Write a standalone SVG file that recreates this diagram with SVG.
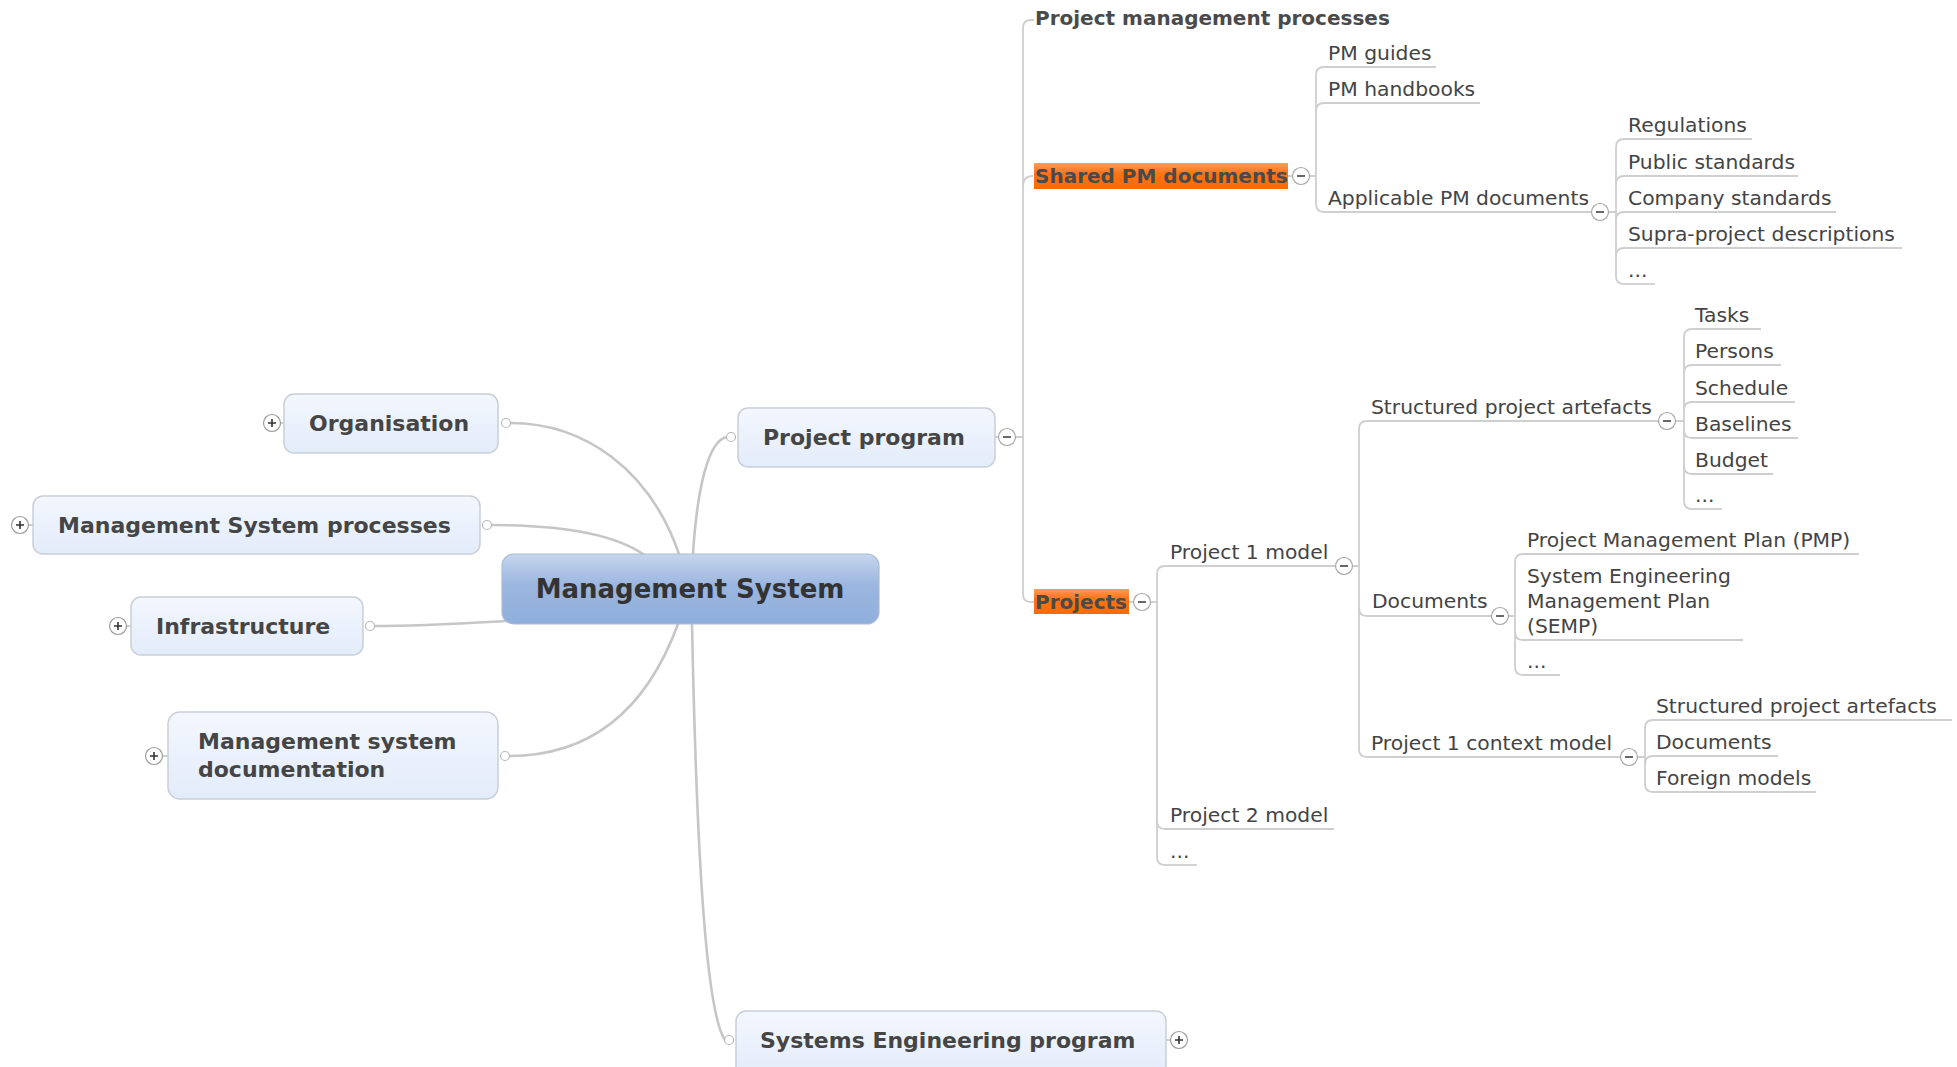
<svg xmlns="http://www.w3.org/2000/svg" width="1957" height="1067" viewBox="0 0 1957 1067">
  <defs>
    <linearGradient id="gTopic" x1="0" y1="0" x2="0" y2="1">
      <stop offset="0" stop-color="#f3f7fe"/>
      <stop offset="1" stop-color="#e3ecfa"/>
    </linearGradient>
    <linearGradient id="gCentral" x1="0" y1="0" x2="0" y2="1">
      <stop offset="0" stop-color="#c6d6ee"/>
      <stop offset="0.45" stop-color="#9bb6df"/>
      <stop offset="1" stop-color="#8fafdc"/>
    </linearGradient>
    <linearGradient id="gMark" x1="0" y1="0" x2="0" y2="1">
      <stop offset="0" stop-color="#ff9c5a"/>
      <stop offset="0.4" stop-color="#ff7315"/>
      <stop offset="1" stop-color="#ff6a00"/>
    </linearGradient>
    <g id="plus">
      <circle r="8.5" fill="#fff" stroke="#9a9a9a" stroke-width="1.2"/>
      <path d="M-4 0H4M0 -4V4" stroke="#333" stroke-width="1.6"/>
    </g>
    <g id="minus">
      <circle r="8.5" fill="#fff" stroke="#a8a8a8" stroke-width="1.2"/>
      <path d="M-4 0H4" stroke="#444" stroke-width="1.6"/>
    </g>
    <g id="dot">
      <circle r="4.5" fill="#fff" stroke="#b8b8b8" stroke-width="1.2"/>
    </g>
  </defs>
  <style>
    .box { fill: url(#gTopic); stroke: #c9ced8; stroke-width: 1.5; }
    .central { fill: url(#gCentral); stroke: #a9bbd6; stroke-width: 1.2; }
    .mark { fill: url(#gMark); }
    .t1 { font-family: "DejaVu Sans", Verdana, sans-serif; font-weight: bold; font-size: 22px; fill: #454545; }
    .t0 { font-family: "DejaVu Sans", Verdana, sans-serif; font-weight: bold; font-size: 26px; fill: #333; }
    .t2 { font-family: "DejaVu Sans", Verdana, sans-serif; font-weight: bold; font-size: 20px; fill: #4a4a4a; }
    .t3 { font-family: "DejaVu Sans", Verdana, sans-serif; font-size: 20.3px; fill: #444; }
    .ul { stroke: #cfcfcf; stroke-width: 1.8; fill: none; }
    .main { stroke: #c6c6c6; stroke-width: 2.6; fill: none; stroke-linecap: round; }
    .tree { stroke: #cfcfcf; stroke-width: 1.8; fill: none; }
  </style>

  <!-- connectors -->
  <g id="connectors">
    <!-- from the central topic -->
    <path class="main" d="M510 423 C585 423 650 470 679 554"/>
    <path class="main" d="M491 525 C565 525 615 535 643 554"/>
    <path class="main" d="M374 626 C420 626 470 623 506 621"/>
    <path class="main" d="M509 756 C600 756 650 700 678 624"/>
    <path class="main" d="M693 554 C697 490 708 440 727 437"/>
    <path class="main" d="M692 624 C696 820 704 1010 725 1040"/>
    <!-- expand / collapse stubs -->
    <path class="tree" d="M281 423H284M29 525H33M127 626H131M163 756H168M995 437H999M1166 1040H1171"/>
    <!-- Project program -->
    <path class="tree" d="M1016 437H1023M1023 437V28Q1023 20 1031 20H1034"/>
    <path class="tree" d="M1023 186Q1023 176 1033 176"/>
    <path class="tree" d="M1023 437V594Q1023 602 1031 602H1034"/>
    <!-- Shared PM documents -->
    <path class="tree" d="M1288 176H1293M1310 176H1316M1316 176V75Q1316 67 1324 67"/>
    <path class="tree" d="M1316 111Q1316 103 1324 103"/>
    <path class="tree" d="M1316 176V204Q1316 212 1324 212"/>
    <!-- Applicable PM documents -->
    <path class="tree" d="M1609 212H1616M1616 212V147Q1616 139 1624 139"/>
    <path class="tree" d="M1616 184Q1616 176 1624 176"/>
    <path class="tree" d="M1616 220Q1616 212 1624 212"/>
    <path class="tree" d="M1616 256Q1616 248 1624 248"/>
    <path class="tree" d="M1616 212V276Q1616 284 1624 284"/>
    <!-- Projects -->
    <path class="tree" d="M1129 602H1134M1151 602H1157M1157 602V574Q1157 566 1165 566"/>
    <path class="tree" d="M1157 602V821Q1157 829 1165 829"/>
    <path class="tree" d="M1157 602V857Q1157 865 1165 865"/>
    <!-- Project 1 model -->
    <path class="tree" d="M1353 566H1359M1359 566V429Q1359 421 1367 421"/>
    <path class="tree" d="M1359 608Q1359 616 1367 616"/>
    <path class="tree" d="M1359 566V749Q1359 757 1367 757"/>
    <!-- Structured project artefacts -->
    <path class="tree" d="M1676 421H1684M1684 421V337Q1684 329 1692 329"/>
    <path class="tree" d="M1684 373Q1684 365 1692 365"/>
    <path class="tree" d="M1684 410Q1684 402 1692 402"/>
    <path class="tree" d="M1684 430Q1684 438 1692 438"/>
    <path class="tree" d="M1684 466Q1684 474 1692 474"/>
    <path class="tree" d="M1684 421V501Q1684 509 1692 509"/>
    <!-- Documents -->
    <path class="tree" d="M1509 616H1515M1515 616V562Q1515 554 1523 554"/>
    <path class="tree" d="M1515 632Q1515 640 1523 640"/>
    <path class="tree" d="M1515 616V667Q1515 675 1523 675"/>
    <!-- Project 1 context model -->
    <path class="tree" d="M1638 757H1645M1645 757V728Q1645 720 1653 720"/>
    <path class="tree" d="M1645 764Q1645 756 1653 756"/>
    <path class="tree" d="M1645 757V784Q1645 792 1653 792"/>
  </g>

  <!-- central topic -->
  <g id="management-system">
    <rect class="central" x="502" y="554" width="377" height="70" rx="12"/>
    <text class="t0" x="690" y="598" text-anchor="middle">Management System</text>
  </g>

  <!-- main topics -->
  <g id="organisation">
    <rect class="box" x="284" y="394" width="214" height="59" rx="10"/>
    <text class="t1" x="309" y="431">Organisation</text>
    <use href="#plus" x="272" y="423"/>
    <use href="#dot" x="506" y="423"/>
  </g>
  <g id="ms-processes">
    <rect class="box" x="33" y="496" width="447" height="58" rx="10"/>
    <text class="t1" x="58" y="533">Management System processes</text>
    <use href="#plus" x="20" y="525"/>
    <use href="#dot" x="487" y="525"/>
  </g>
  <g id="infrastructure">
    <rect class="box" x="131" y="597" width="232" height="58" rx="10"/>
    <text class="t1" x="156" y="634">Infrastructure</text>
    <use href="#plus" x="118" y="626"/>
    <use href="#dot" x="370" y="626"/>
  </g>
  <g id="ms-documentation">
    <rect class="box" x="168" y="712" width="330" height="87" rx="12"/>
    <text class="t1" x="198" y="749">Management system</text>
    <text class="t1" x="198" y="777">documentation</text>
    <use href="#plus" x="154" y="756"/>
    <use href="#dot" x="505" y="756"/>
  </g>
  <g id="project-program">
    <rect class="box" x="738" y="408" width="257" height="59" rx="10"/>
    <text class="t1" x="763" y="445">Project program</text>
    <use href="#dot" x="731" y="437"/>
    <use href="#minus" x="1007" y="437"/>
  </g>
  <g id="se-program">
    <rect class="box" x="736" y="1011" width="430" height="66" rx="10"/>
    <text class="t1" x="760" y="1048">Systems Engineering program</text>
    <use href="#dot" x="729" y="1040"/>
    <use href="#plus" x="1179" y="1040"/>
  </g>

  <!-- Project program branch -->
  <g id="pm-processes">
    <text class="t2" x="1035" y="25">Project management processes</text>
  </g>
  <g id="shared-pm-documents">
    <rect class="mark" x="1034" y="163" width="254" height="26"/>
    <text class="t2" x="1035" y="183">Shared PM documents</text>
    <use href="#minus" x="1301" y="176"/>
  </g>
  <g id="pm-guides">
    <text class="t3" x="1328" y="60">PM guides</text>
    <path class="ul" d="M1324 67H1436"/>
  </g>
  <g id="pm-handbooks">
    <text class="t3" x="1328" y="96">PM handbooks</text>
    <path class="ul" d="M1324 103H1480"/>
  </g>
  <g id="applicable-pm-documents">
    <text class="t3" x="1328" y="205">Applicable PM documents</text>
    <path class="ul" d="M1324 212H1591"/>
    <use href="#minus" x="1600" y="212"/>
  </g>
  <g id="regulations">
    <text class="t3" x="1628" y="132">Regulations</text>
    <path class="ul" d="M1624 139H1752"/>
  </g>
  <g id="public-standards">
    <text class="t3" x="1628" y="169">Public standards</text>
    <path class="ul" d="M1624 176H1798"/>
  </g>
  <g id="company-standards">
    <text class="t3" x="1628" y="205">Company standards</text>
    <path class="ul" d="M1624 212H1836"/>
  </g>
  <g id="supra-project-descriptions">
    <text class="t3" x="1628" y="241">Supra-project descriptions</text>
    <path class="ul" d="M1624 248H1902"/>
  </g>
  <g id="applicable-more">
    <text class="t3" x="1628" y="277">...</text>
    <path class="ul" d="M1624 284H1655"/>
  </g>

  <g id="projects">
    <rect class="mark" x="1034" y="589" width="95" height="25"/>
    <text class="t2" x="1035" y="609">Projects</text>
    <use href="#minus" x="1142" y="602"/>
  </g>
  <g id="project-1-model">
    <text class="t3" x="1170" y="559">Project 1 model</text>
    <path class="ul" d="M1165 566H1335"/>
    <use href="#minus" x="1344" y="566"/>
  </g>
  <g id="project-2-model">
    <text class="t3" x="1170" y="822">Project 2 model</text>
    <path class="ul" d="M1165 829H1334"/>
  </g>
  <g id="projects-more">
    <text class="t3" x="1170" y="858">...</text>
    <path class="ul" d="M1165 865H1197"/>
  </g>

  <g id="structured-artefacts">
    <text class="t3" x="1371" y="414">Structured project artefacts</text>
    <path class="ul" d="M1367 421H1658"/>
    <use href="#minus" x="1667" y="421"/>
  </g>
  <g id="tasks">
    <text class="t3" x="1695" y="322">Tasks</text>
    <path class="ul" d="M1692 329H1761"/>
  </g>
  <g id="persons">
    <text class="t3" x="1695" y="358">Persons</text>
    <path class="ul" d="M1692 365H1781"/>
  </g>
  <g id="schedule">
    <text class="t3" x="1695" y="395">Schedule</text>
    <path class="ul" d="M1692 402H1795"/>
  </g>
  <g id="baselines">
    <text class="t3" x="1695" y="431">Baselines</text>
    <path class="ul" d="M1692 438H1798"/>
  </g>
  <g id="budget">
    <text class="t3" x="1695" y="467">Budget</text>
    <path class="ul" d="M1692 474H1773"/>
  </g>
  <g id="artefacts-more">
    <text class="t3" x="1695" y="502">...</text>
    <path class="ul" d="M1692 509H1722"/>
  </g>

  <g id="documents">
    <text class="t3" x="1372" y="608">Documents</text>
    <path class="ul" d="M1367 616H1491"/>
    <use href="#minus" x="1500" y="616"/>
  </g>
  <g id="pmp">
    <text class="t3" x="1527" y="547">Project Management Plan (PMP)</text>
    <path class="ul" d="M1523 554H1859"/>
  </g>
  <g id="semp">
    <text class="t3" x="1527" y="583">System Engineering</text>
    <text class="t3" x="1527" y="608">Management Plan</text>
    <text class="t3" x="1527" y="633">(SEMP)</text>
    <path class="ul" d="M1523 640H1743"/>
  </g>
  <g id="documents-more">
    <text class="t3" x="1527" y="668">...</text>
    <path class="ul" d="M1523 675H1560"/>
  </g>

  <g id="context-model">
    <text class="t3" x="1371" y="750">Project 1 context model</text>
    <path class="ul" d="M1367 757H1620"/>
    <use href="#minus" x="1629" y="757"/>
  </g>
  <g id="context-artefacts">
    <text class="t3" x="1656" y="713">Structured project artefacts</text>
    <path class="ul" d="M1653 720H1952"/>
  </g>
  <g id="context-documents">
    <text class="t3" x="1656" y="749">Documents</text>
    <path class="ul" d="M1653 756H1778"/>
  </g>
  <g id="foreign-models">
    <text class="t3" x="1656" y="785">Foreign models</text>
    <path class="ul" d="M1653 792H1816"/>
  </g>
</svg>
